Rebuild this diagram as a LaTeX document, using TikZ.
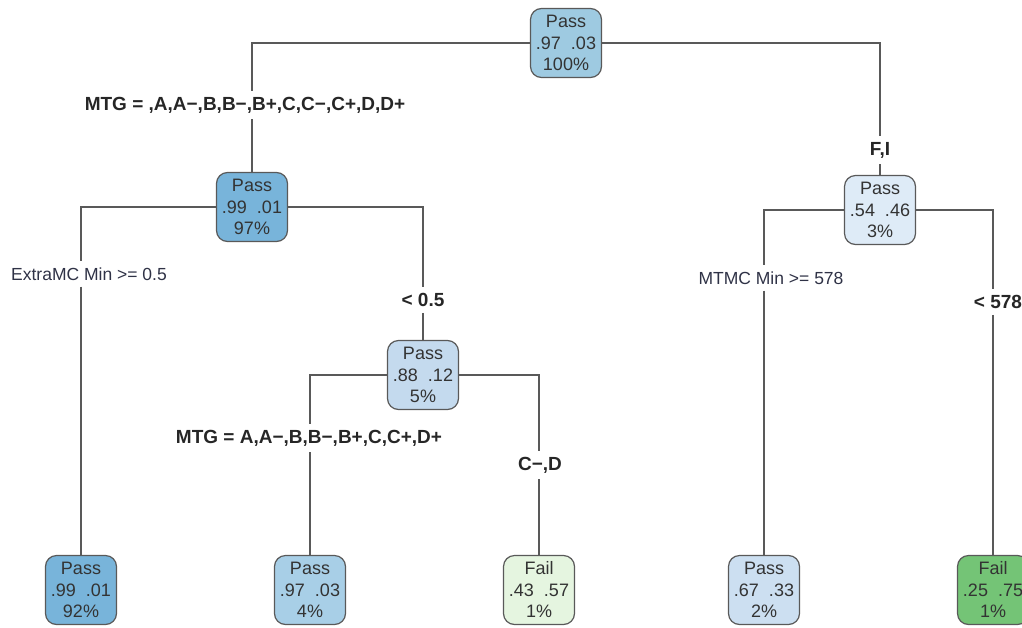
\documentclass[tikz,border=0pt]{standalone}
\usepackage{fontspec}
\setmainfont{Liberation Sans}
\begin{document}
\begin{tikzpicture}[x=1pt,y=-1pt,
  tnode/.style={draw=black!65, line width=1.2pt, rounded corners=11pt,
    minimum width=71pt, minimum height=69pt, inner sep=1pt, align=center,
    text=black!80, font=\fontsize{18}{21.5}\selectfont},
  blab/.style={font=\bfseries\fontsize{19}{22}\selectfont, text=black!85, inner xsep=2pt, inner ysep=6pt},
  rlab/.style={font=\fontsize{17.5}{20}\selectfont, text={rgb,255:red,47;green,50;blue,70}, inner xsep=2pt, inner ysep=6pt},
  edge/.style={draw=black!65, line width=1.2pt}]
\definecolor{cA}{HTML}{78B4DA}
\definecolor{cRoot}{HTML}{9ECAE1}
\definecolor{cL2}{HTML}{A8CFE7}
\definecolor{cN3}{HTML}{C4DAEE}
\definecolor{cL4}{HTML}{CCDFF1}
\definecolor{cR}{HTML}{DEEBF7}
\definecolor{cF1}{HTML}{E5F5E0}
\definecolor{cF2}{HTML}{74C476}
\useasboundingbox (0,0) rectangle (1022,627);
\clip (0,0) rectangle (1022,627);
% nodes
\node[tnode, fill=cRoot] (root) at (566,43) {Pass\\.97\ \ .03\\100\%};
\node[tnode, fill=cA] (n2) at (252,207) {Pass\\.99\ \ .01\\97\%};
\node[tnode, fill=cR] (nr) at (880,210) {Pass\\.54\ \ .46\\3\%};
\node[tnode, fill=cN3] (n3) at (423,375) {Pass\\.88\ \ .12\\5\%};
\node[tnode, fill=cA] (l1) at (81,590) {Pass\\.99\ \ .01\\92\%};
\node[tnode, fill=cL2] (l2) at (310,590) {Pass\\.97\ \ .03\\4\%};
\node[tnode, fill=cF1] (l3) at (539,590) {Fail\\.43\ \ .57\\1\%};
\node[tnode, fill=cL4] (l4) at (764,590) {Pass\\.67\ \ .33\\2\%};
\node[tnode, fill=cF2] (l5) at (993,590) {Fail\\.25\ \ .75\\1\%};
% labels
\node[blab] (lab1) at (245,105) {MTG = ,A,A−,B,B−,B+,C,C−,C+,D,D+};
\node[blab] (labFI) at (880,150) {F,I};
\node[rlab] (labE) at (89,274) {ExtraMC Min >= 0.5};
\node[blab] (lab05) at (423,300) {<\ 0.5};
\node[blab] (labM2) at (309,438) {MTG = A,A−,B,B−,B+,C,C+,D+};
\node[blab] (labCD) at (540,465) {C−,D};
\node[rlab] (labMT) at (771,278) {MTMC Min >= 578};
\node[blab] (lab578) at (998,302) {<\ 578};
% connectors
\draw[edge] (root.west) -| (n2.north |- lab1.north);
\draw[edge] (n2.north |- lab1.south) -- (n2.north);
\draw[edge] (root.east) -| (labFI.north);
\draw[edge] (labFI.south) -- (nr.north);
\draw[edge] (n2.west) -| (l1.north |- labE.north);
\draw[edge] (l1.north |- labE.south) -- (l1.north);
\draw[edge] (n2.east) -| (lab05.north);
\draw[edge] (lab05.south) -- (n3.north);
\draw[edge] (n3.west) -| (l2.north |- labM2.north);
\draw[edge] (l2.north |- labM2.south) -- (l2.north);
\draw[edge] (n3.east) -| (l3.north |- labCD.north);
\draw[edge] (l3.north |- labCD.south) -- (l3.north);
\draw[edge] (nr.west) -| (l4.north |- labMT.north);
\draw[edge] (l4.north |- labMT.south) -- (l4.north);
\draw[edge] (nr.east) -| (l5.north |- lab578.north);
\draw[edge] (l5.north |- lab578.south) -- (l5.north);
\end{tikzpicture}
\end{document}
